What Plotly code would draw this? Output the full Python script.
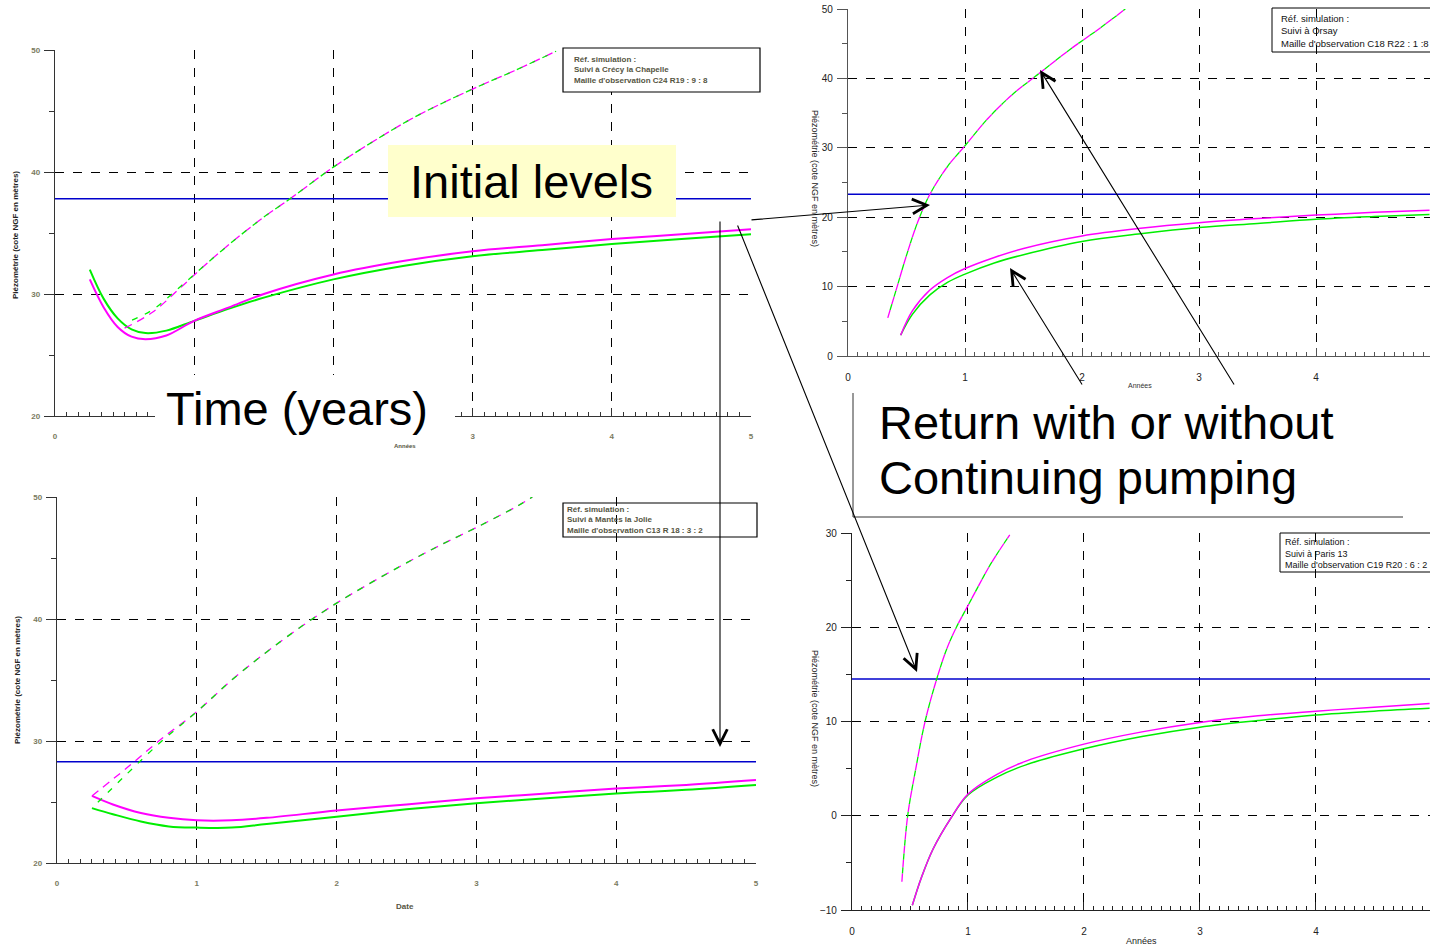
import plotly.graph_objects as go

W, H = 1430, 948


def px(x):
    return x / W


def py(y):
    return 1 - y / H


# ---------------- data ----------------
# Top-left : Crécy la Chapelle
tl_initial = 37.8
tl_x = [0.25, 0.35, 0.45, 0.55, 0.65, 0.8, 1.0, 1.25, 1.5, 2.0, 2.5, 3.0, 3.5, 4.0, 4.5, 5.0]
tl_mag = [31.2, 28.9, 27.3, 26.5, 26.3, 26.6, 27.8, 28.9, 30.0, 31.6, 32.7, 33.5, 34.0, 34.5, 34.9, 35.3]
tl_grn = [32.0, 29.6, 28.0, 27.1, 26.8, 27.0, 27.8, 28.8, 29.7, 31.2, 32.3, 33.1, 33.6, 34.1, 34.5, 34.9]
tl_dx = [0.5, 0.7, 0.9, 1.1, 1.33, 1.5, 1.7, 2.0, 2.3, 2.6, 3.0, 3.3, 3.6]
tl_dmag = [27.2, 28.5, 30.5, 32.6, 34.8, 36.3, 37.9, 40.4, 42.6, 44.6, 46.8, 48.3, 49.9]
tl_dgrn = [27.6, 28.7, 30.6, 32.6, 34.8, 36.3, 37.9, 40.4, 42.6, 44.6, 46.8, 48.3, 49.9]
tl_ticks = [0, 1, 2, 3, 4, 5]
tl_ticktext = ["0", "", "", "3", "4", "5"]

# Top-right : Orsay
tr_initial = 23.3
tr_x = [0.45, 0.55, 0.7, 0.85, 1.0, 1.25, 1.5, 2.0, 2.5, 3.0, 3.5, 4.0, 4.5, 4.97]
tr_mag = [3.0, 6.5, 9.5, 11.3, 12.6, 14.2, 15.5, 17.3, 18.4, 19.2, 19.8, 20.3, 20.7, 21.0]
tr_grn = [3.0, 6.0, 8.8, 10.6, 11.8, 13.4, 14.6, 16.5, 17.6, 18.5, 19.1, 19.7, 20.1, 20.4]
tr_dx = [0.34, 0.42, 0.5, 0.6, 0.7, 0.85, 1.0, 1.2, 1.4, 1.64, 1.9, 2.15, 2.37]
tr_dy = [5.5, 10.0, 14.5, 19.5, 23.3, 27.3, 30.3, 34.3, 37.6, 40.8, 44.2, 47.2, 50.0]

# Bottom-left : Mantes la Jolie
bl_initial = 28.3
bl_x = [0.25, 0.4, 0.6, 0.8, 1.0, 1.25, 1.5, 2.0, 2.5, 3.0, 3.5, 4.0, 4.5, 5.0]
bl_mag = [25.5, 24.8, 24.1, 23.7, 23.5, 23.5, 23.7, 24.3, 24.8, 25.3, 25.7, 26.1, 26.4, 26.8]
bl_grn = [24.5, 24.0, 23.4, 23.0, 22.9, 22.9, 23.2, 23.8, 24.4, 24.9, 25.3, 25.7, 26.0, 26.4]
bl_dx = [0.25, 0.5, 0.75, 1.0, 1.25, 1.5, 1.75, 2.0, 2.25, 2.5, 2.75, 3.0, 3.3, 3.4]
bl_dmag = [25.5, 27.8, 30.2, 32.4, 35.0, 37.3, 39.4, 41.3, 43.0, 44.6, 46.1, 47.5, 49.3, 50.0]
bl_dgrn = [24.5, 27.3, 30.0, 32.4, 35.0, 37.3, 39.4, 41.3, 43.0, 44.6, 46.1, 47.5, 49.3, 50.0]

# Bottom-right : Paris 13
br_initial = 14.5
br_x = [0.52, 0.6, 0.7, 0.85, 1.0, 1.25, 1.5, 2.0, 2.5, 3.0, 3.5, 4.0, 4.5, 4.98]
br_mag = [-9.5, -6.5, -3.5, -0.3, 2.3, 4.4, 5.8, 7.6, 8.9, 9.9, 10.6, 11.1, 11.5, 11.9]
br_grn = [-9.5, -6.5, -3.5, -0.3, 2.2, 4.1, 5.4, 7.1, 8.4, 9.4, 10.1, 10.7, 11.1, 11.4]
br_dx = [0.43, 0.48, 0.55, 0.63, 0.73, 0.82, 0.9, 1.0, 1.1, 1.2, 1.36]
br_dy = [-7.0, 0.0, 5.0, 10.0, 14.5, 17.8, 20.0, 22.3, 24.6, 26.8, 29.8]

legend_tl = "Réf. simulation :<br>Suivi à Crécy la Chapelle<br>Maille d'observation C24 R19 : 9 : 8"
legend_tr = "Réf. simulation :<br>Suivi à Orsay<br>Maille d'observation C18 R22 : 1 :8"
legend_bl = "Réf. simulation :<br>Suivi à Mantes la Jolie<br>Maille d'observation C13 R 18 : 3 : 2"
legend_br = "Réf. simulation :<br>Suivi à Paris 13<br>Maille d'observation C19 R20 : 6 : 2"
y_title = "Piézométrie (cote NGF en mètres)"

MAG = "#ff00ff"
GRN = "#00ee00"
BLUE = "#0000cc"

fig = go.Figure()


def add_panel(xa, ya, xmax, level, sx, smag, sgrn, dx, dmag, dgrn, lw):
    fig.add_trace(go.Scatter(x=[0, xmax], y=[level, level], mode="lines",
                             line=dict(color=BLUE, width=1.5), xaxis=xa, yaxis=ya))
    fig.add_trace(go.Scatter(x=sx, y=sgrn, mode="lines", line=dict(color=GRN, width=lw, shape="spline"),
                             xaxis=xa, yaxis=ya))
    fig.add_trace(go.Scatter(x=sx, y=smag, mode="lines", line=dict(color=MAG, width=lw, shape="spline"),
                             xaxis=xa, yaxis=ya))
    fig.add_trace(go.Scatter(x=dx, y=dmag, mode="lines",
                             line=dict(color=MAG, width=1.3, dash="8px,6px", shape="spline"),
                             xaxis=xa, yaxis=ya))
    fig.add_trace(go.Scatter(x=dx, y=dgrn, mode="lines",
                             line=dict(color=GRN, width=1.3, dash="0px,8px,6px,0px", shape="spline"),
                             xaxis=xa, yaxis=ya))


add_panel("x", "y", 5.0, tl_initial, tl_x, tl_mag, tl_grn, tl_dx, tl_dmag, tl_dgrn, 2)
add_panel("x2", "y2", 4.974, tr_initial, tr_x, tr_mag, tr_grn, tr_dx, tr_dy, tr_dy, 1.5)
add_panel("x3", "y3", 5.0, bl_initial, bl_x, bl_mag, bl_grn, bl_dx, bl_dmag, bl_dgrn, 2)
add_panel("x4", "y4", 4.983, br_initial, br_x, br_mag, br_grn, br_dx, br_dy, br_dy, 1.5)

old_font = dict(family="Arial", size=8, color="#7a7a60", weight="bold")
NARROW = "Liberation Sans Narrow, Arial Narrow, Arial"
new_font = dict(family=NARROW, size=10, color="#222222")


def xaxis(d0, d1, xmax, anchor, font, linecolor, standoff):
    return dict(domain=[px(d0), px(d1)], range=[0, xmax], anchor=anchor,
                tick0=0, dtick=1, showgrid=True, gridcolor="black", griddash="dash", gridwidth=1,
                showline=True, linecolor=linecolor, linewidth=1.3, zeroline=False,
                ticks="inside", ticklen=8, tickcolor=linecolor, tickwidth=1.3,
                minor=dict(dtick=1 / 12, ticks="inside", ticklen=4, tickcolor=linecolor, showgrid=False),
                tickfont=font, ticklabelstandoff=standoff, automargin=False, fixedrange=True)


def yaxis(top, bottom, rng, dtick, minor, anchor, font, linecolor):
    return dict(domain=[py(bottom), py(top)], range=rng, anchor=anchor,
                tick0=rng[0], dtick=dtick, showgrid=True, gridcolor="black", griddash="dash", gridwidth=1,
                showline=True, linecolor=linecolor, linewidth=1.3, zeroline=False,
                ticks="outside", ticklen=10, tickcolor=linecolor, tickwidth=1.3,
                minor=dict(dtick=minor, ticks="outside", ticklen=5, tickcolor=linecolor, showgrid=False),
                tickfont=font, ticklabelstandoff=2, automargin=False, fixedrange=True)


xa_tl = xaxis(55, 751, 5.0, "y", old_font, "#333333", 12)
xa_tl.update(tickmode="array", tickvals=tl_ticks, ticktext=tl_ticktext)

fig.update_layout(
    width=W, height=H, autosize=False,
    margin=dict(l=0, r=0, t=0, b=0),
    paper_bgcolor="white", plot_bgcolor="white",
    showlegend=False,
    xaxis=xa_tl,
    yaxis=yaxis(50, 416, [20, 50], 10, 5, "x", old_font, "#333333"),
    xaxis2=xaxis(848, 1430, 4.974, "y2", new_font, "#555555", 12),
    yaxis2=yaxis(9, 356, [0, 50], 10, 5, "x2", new_font, "#555555"),
    xaxis3=xaxis(57, 756, 5.0, "y3", old_font, "#333333", 12),
    yaxis3=yaxis(497, 863, [20, 50], 10, 5, "x3", old_font, "#333333"),
    xaxis4=xaxis(852, 1430, 4.983, "y4", new_font, "#222222", 12),
    yaxis4=yaxis(533, 910, [-10, 30], 10, 5, "x4", new_font, "#222222"),
)

shapes = []
annotations = []


def box(x0, y0, x1, y1, fill, line_w=1, layer="above", line_color="black"):
    shapes.append(dict(type="rect", xref="paper", yref="paper",
                       x0=px(x0), x1=px(x1), y0=py(y1), y1=py(y0),
                       fillcolor=fill, line=dict(color=line_color, width=line_w), layer=layer))


def text(x, y, s, size, color="black", xanchor="center", yanchor="middle", angle=0, weight="normal",
         family="Arial", align="center"):
    annotations.append(dict(xref="paper", yref="paper", x=px(x), y=py(y), text=s, showarrow=False,
                            font=dict(family=family, size=size, color=color, weight=weight),
                            xanchor=xanchor, yanchor=yanchor, textangle=angle, align=align))


# legend boxes
box(563, 48, 760, 92, "white", 1.2)
text(572, 70, legend_tl, 8, "#55553f", xanchor="left", weight="bold", align="left")
box(563, 503, 757, 537, "rgba(0,0,0,0)", 1.2)
text(565, 520, legend_bl, 8, "#55553f", xanchor="left", weight="bold", align="left")
box(1272, 8, 1440, 52, "rgba(0,0,0,0)", 1)
text(1279, 31, legend_tr, 9.5, "#111111", xanchor="left", align="left", family=NARROW)
box(1280, 533, 1440, 572, "rgba(0,0,0,0)", 1)
text(1283, 553, legend_br, 9, "#111111", xanchor="left", align="left", family=NARROW)

# axis titles
text(15, 235, y_title, 8, "#222222", angle=-90, weight="bold")
text(17, 680, y_title, 8, "#222222", angle=-90, weight="bold")
text(815, 178, y_title, 9, "#222222", angle=90, family=NARROW)
text(815, 718, y_title, 9, "#222222", angle=90, family=NARROW)
text(405, 446, "Années", 6, "#55553f", weight="bold")
text(405, 906, "Date", 8, "#55553f", weight="bold")
text(1140, 385, "Années", 7, "#333333", family=NARROW)
text(1141, 941, "Années", 9, "#222222", family=NARROW)

# callout boxes
box(388, 145, 676, 217, "#ffffcc", 0)
text(531, 181, "Initial levels", 47)
box(155, 375, 455, 440, "white", 0)
text(297, 408, "Time (years)", 47)
box(853, 393, 1403, 517, "white", 0)
shapes.append(dict(type="line", xref="paper", yref="paper", x0=px(853), x1=px(853), y0=py(517), y1=py(393),
                   line=dict(color="#333333", width=1)))
shapes.append(dict(type="line", xref="paper", yref="paper", x0=px(853), x1=px(1403), y0=py(517), y1=py(517),
                   line=dict(color="#333333", width=1)))
text(877, 423, "Return with or without", 47, xanchor="left")
text(877, 478, "Continuing pumping", 47, xanchor="left")

# arrows (head, tail)
arrows = [((930, 205), (750, 220)),
          ((720, 747), (720, 220)),
          ((917, 672), (737, 224)),
          ((1040, 70), (1235, 386)),
          ((1010, 268), (1083, 386))]
for (hx, hy), (tx, ty) in arrows:
    annotations.append(dict(xref="paper", yref="paper", x=px(hx), y=py(hy), text="",
                            showarrow=True, arrowhead=5, arrowsize=2.6, arrowwidth=1.1,
                            arrowcolor="black", ax=tx - hx, ay=ty - hy, standoff=0, startstandoff=0))

fig.update_layout(shapes=shapes, annotations=annotations)
fig.write_html("out.html", config={"displayModeBar": False},
               post_script="document.body.style.margin='0px';document.body.style.overflow='hidden';")
